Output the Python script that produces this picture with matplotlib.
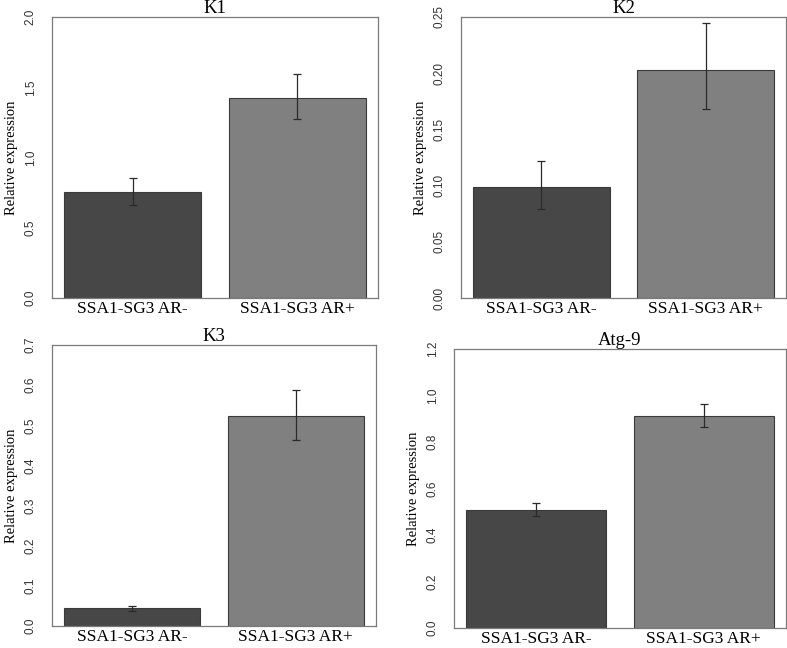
import numpy as np
import matplotlib
matplotlib.use("Agg")
import matplotlib.pyplot as plt

groups = ["SSA1-SG3 AR-", "SSA1-SG3 AR+"]
titles = ["K1", "K2", "K3", "Atg-9"]

# bar heights and error bar ends
means = [
    [0.752, 1.423],
    [0.0985, 0.203],
    [0.045, 0.522],
    [0.509, 0.913],
]
err_lo = [
    [0.664, 1.276],
    [0.0795, 0.168],
    [0.038, 0.464],
    [0.480, 0.865],
]
err_hi = [
    [0.854, 1.597],
    [0.122, 0.245],
    [0.051, 0.588],
    [0.539, 0.963],
]
ylims = [2.0, 0.25, 0.7, 1.2]
yticks = [
    [0.0, 0.5, 1.0, 1.5, 2.0],
    [0.00, 0.05, 0.10, 0.15, 0.20, 0.25],
    [0.0, 0.1, 0.2, 0.3, 0.4, 0.5, 0.6, 0.7],
    [0.0, 0.2, 0.4, 0.6, 0.8, 1.0, 1.2],
]
ytick_fmt = ["%.1f", "%.2f", "%.1f", "%.1f"]

bar_colors = ["#474747", "#808080"]

W, H = 787, 648
# panel boxes in pixels: x0, y0, x1, y1 (top-left origin)
boxes = [
    (52, 17, 378, 298),
    (461, 17, 786, 298),
    (52, 345, 376, 626),
    (454, 349, 786, 628),
]

fig = plt.figure(figsize=(W / 100, H / 100), dpi=100)
serif = "Liberation Serif"
sans = "Liberation Sans"

# R barplot style positions: width 1, space 0.2
x = np.array([0.7, 1.9])

for i in range(4):
    x0, y0, x1, y1 = boxes[i]
    ax = fig.add_axes([x0 / W, 1 - y1 / H, (x1 - x0) / W, (y1 - y0) / H])
    m = np.array(means[i])
    lo = m - np.array(err_lo[i])
    hi = np.array(err_hi[i]) - m
    ax.bar(x, m, width=1.0, color=bar_colors, edgecolor="#3a3a3a", linewidth=0.8, zorder=2)
    ax.errorbar(x, m, yerr=[lo, hi], fmt="none", ecolor="#2a2a2a",
                elinewidth=0.9, capsize=2.6, capthick=0.9, zorder=3)
    ax.set_xlim(0.112, 2.488)
    ax.set_ylim(0, ylims[i])
    ax.set_yticks(yticks[i])
    ax.set_yticklabels([ytick_fmt[i] % v for v in yticks[i]], rotation=90,
                       va="center", fontfamily=sans, fontsize=8.5, color="#333333")
    ax.set_xticks(x)
    ax.set_xticklabels(groups, fontfamily=serif, fontsize=12.5)
    ax.tick_params(axis="y", length=0, pad=11)
    ax.tick_params(axis="x", length=0, pad=2)
    for s in ax.spines.values():
        s.set_color("#7a7a7a")
        s.set_linewidth(0.9)
    ax.set_title(titles[i], fontfamily=serif, fontsize=13.5, pad=1)
    ax.set_ylabel("Relative expression", fontfamily=serif, fontsize=10.5, labelpad=5)

fig.savefig("out.png", dpi=100)
